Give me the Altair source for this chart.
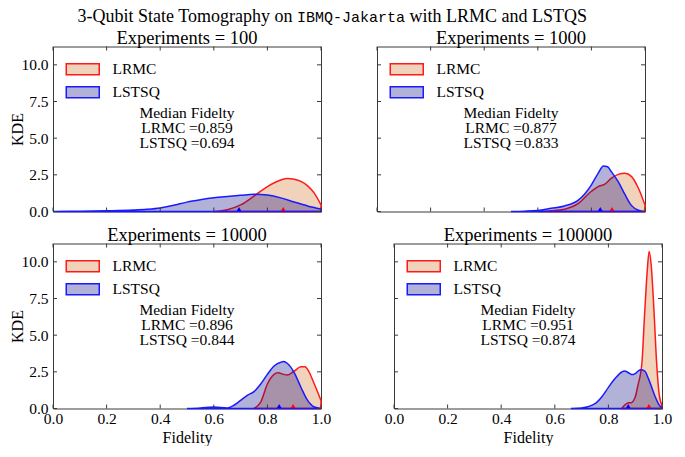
import altair as alt
import pandas as pd

methods = ["LRMC", "LSTSQ"]
experiments = [100, 1000, 10000, 100000]
median_lrmc = [0.859, 0.877, 0.896, 0.951]
median_lstsq = [0.694, 0.833, 0.844, 0.874]

x_ticks = [0.0, 0.2, 0.4, 0.6, 0.8, 1.0]
y_ticks = [0.0, 2.5, 5.0, 7.5, 10.0]

title_parts = ["3-Qubit State Tomography on", "IBMQ-Jakarta", "with LRMC and LSTQS"]

# --- KDE curves ---
lrmc_100_x = [0.6, 0.65, 0.7, 0.75, 0.8, 0.85, 0.875, 0.9, 0.925, 0.95, 0.975, 1.0]
lrmc_100_y = [0.0, 0.12, 0.45, 1.05, 1.7, 2.15, 2.25, 2.2, 2.05, 1.75, 1.25, 0.45]
lstsq_100_x = [0.0, 0.1, 0.2, 0.3, 0.35, 0.4, 0.45, 0.5, 0.55, 0.6, 0.65, 0.7, 0.75, 0.8, 0.85, 0.9, 0.95, 1.0]
lstsq_100_y = [0.0, 0.02, 0.05, 0.1, 0.15, 0.24, 0.42, 0.64, 0.8, 0.93, 1.02, 1.1, 1.18, 1.12, 0.93, 0.65, 0.38, 0.17]

lrmc_1000_x = [0.6, 0.65, 0.7, 0.75, 0.8, 0.825, 0.85, 0.875, 0.9, 0.925, 0.95, 0.975, 1.0]
lrmc_1000_y = [0.0, 0.05, 0.16, 0.53, 1.38, 1.7, 1.87, 2.27, 2.53, 2.6, 2.38, 1.6, 0.44]
lstsq_1000_x = [0.5, 0.55, 0.6, 0.65, 0.7, 0.75, 0.775, 0.8, 0.825, 0.845, 0.86, 0.875, 0.9, 0.925, 0.95, 0.975, 1.0]
lstsq_1000_y = [0.0, 0.02, 0.07, 0.22, 0.38, 0.76, 1.2, 1.82, 2.6, 3.1, 3.05, 2.7, 2.04, 1.16, 0.4, 0.09, 0.0]

lrmc_10000_x = [0.75, 0.775, 0.8, 0.825, 0.84, 0.86, 0.875, 0.9, 0.925, 0.94, 0.95, 0.975, 1.0]
lrmc_10000_y = [0.0, 0.44, 1.67, 2.33, 2.44, 2.33, 2.29, 2.55, 2.84, 2.84, 2.67, 1.67, 0.55]
lstsq_10000_x = [0.5, 0.55, 0.6, 0.65, 0.675, 0.7, 0.725, 0.75, 0.775, 0.8, 0.825, 0.85, 0.86, 0.875, 0.9, 0.925, 0.95, 0.975, 1.0]
lstsq_10000_y = [0.0, 0.04, 0.1, 0.04, 0.22, 0.55, 0.9, 1.15, 1.67, 2.33, 2.9, 3.15, 3.2, 3.07, 2.45, 1.45, 0.55, 0.1, 0.0]

lrmc_100000_x = [0.85, 0.86, 0.875, 0.885, 0.9, 0.91, 0.925, 0.935, 0.945, 0.952, 0.96, 0.97, 0.98, 0.99, 1.0]
lrmc_100000_y = [0.0, 0.22, 0.4, 0.4, 0.78, 1.56, 3.1, 6.4, 9.4, 10.7, 9.7, 6.7, 3.1, 0.9, 0.22]
lstsq_100000_x = [0.66, 0.7, 0.75, 0.775, 0.8, 0.825, 0.85, 0.86, 0.875, 0.89, 0.9, 0.92, 0.935, 0.95, 0.975, 0.99, 1.0]
lstsq_100000_y = [0.0, 0.04, 0.33, 0.78, 1.44, 2.04, 2.49, 2.56, 2.44, 2.31, 2.38, 2.64, 2.56, 2.0, 0.78, 0.22, 0.04]

curves = [
    (lrmc_100_x, lrmc_100_y, lstsq_100_x, lstsq_100_y),
    (lrmc_1000_x, lrmc_1000_y, lstsq_1000_x, lstsq_1000_y),
    (lrmc_10000_x, lrmc_10000_y, lstsq_10000_x, lstsq_10000_y),
    (lrmc_100000_x, lrmc_100000_y, lstsq_100000_x, lstsq_100000_y),
]

W, H = 268, 165
SERIF = "Liberation Serif"
MONO = "Liberation Mono"
FS = 15.5
fill_range = ["rgba(210,105,30,0.3)", "rgba(0,0,128,0.3)"]
stroke_range = ["#ff1a1a", "#1a1aff"]
FRAME = "#3a3a3a"
FRAME_VIEW = alt.ViewBackground(stroke=FRAME, strokeWidth=1)


def panel(i, show_x, show_y):
    lx, ly, sx, sy = curves[i]
    df = pd.concat([
        pd.DataFrame({"x": lx, "y": ly, "method": methods[0]}),
        pd.DataFrame({"x": sx, "y": sy, "method": methods[1]}),
    ], ignore_index=True)
    xs = alt.Scale(domain=[0, 1], nice=False, zero=False)
    ys = alt.Scale(domain=[0, 11.25], nice=False, zero=False)
    if show_x:
        xaxis = alt.Axis(values=x_ticks, format=".1f", ticks=False, domain=False, grid=False,
                         labelFont=SERIF, labelFontSize=FS, labelColor="black", labelPadding=3,
                         labelFlush=False, title="Fidelity", titleFont=SERIF, titleFontSize=16,
                         titleFontWeight="normal", titleColor="black", titlePadding=2)
    else:
        xaxis = None
    if show_y:
        yaxis = alt.Axis(values=y_ticks, format=".1f", ticks=False, domain=False, grid=False,
                         labelFont=SERIF, labelFontSize=FS, labelColor="black", labelPadding=5,
                         title="KDE", titleFont=SERIF, titleFontSize=16, titleFontWeight="normal",
                         titleColor="black", titleX=-28, titleY=H / 2, titleAngle=270,
                         titleBaseline="bottom", titleAlign="center")
    else:
        yaxis = None
    legend = alt.Legend(title=None, orient="none", legendX=22, legendY=15, padding=0,
                        symbolType="M-3,-1L3,-1L3,1L-3,1Z", symbolSize=121,
                        symbolStrokeWidth=1.5, labelFont=SERIF, labelFontSize=FS, labelColor="black",
                        labelOffset=22, rowPadding=5)
    area = alt.Chart(df).mark_area(interpolate="monotone", strokeWidth=1.5).encode(
        x=alt.X("x:Q", scale=xs, axis=xaxis),
        y=alt.Y("y:Q", scale=ys, axis=yaxis, stack=None),
        fill=alt.Fill("method:N", scale=alt.Scale(domain=methods, range=fill_range), legend=legend),
        stroke=alt.Stroke("method:N", scale=alt.Scale(domain=methods, range=stroke_range), legend=legend),
        detail="method:N",
    )
    xt = pd.DataFrame({"x": x_ticks})
    yt = pd.DataFrame({"y": y_ticks})
    tick_style = dict(color=FRAME, strokeWidth=1)
    tb = alt.Chart(xt).mark_rule(**tick_style).encode(
        x=alt.X("x:Q", scale=xs, axis=xaxis), y=alt.value(H), y2=alt.value(H - 4))
    tt = alt.Chart(xt).mark_rule(**tick_style).encode(
        x=alt.X("x:Q", scale=xs, axis=xaxis), y=alt.value(0), y2=alt.value(4))
    tl = alt.Chart(yt).mark_rule(**tick_style).encode(
        y=alt.Y("y:Q", scale=ys, axis=yaxis), x=alt.value(0), x2=alt.value(4))
    tr = alt.Chart(yt).mark_rule(**tick_style).encode(
        y=alt.Y("y:Q", scale=ys, axis=yaxis), x=alt.value(W), x2=alt.value(W - 4))

    med = pd.DataFrame({"x": [median_lrmc[i], median_lstsq[i]], "y": [0.0, 0.0], "method": methods})
    tri_r = alt.Chart(med).transform_filter(alt.datum.method == methods[0]).mark_point(
        shape="triangle-up", filled=True, size=22, color="red", opacity=1, yOffset=-2.5).encode(
        x=alt.X("x:Q", scale=xs, axis=xaxis), y=alt.Y("y:Q", scale=ys, axis=yaxis))
    tri_b = alt.Chart(med).transform_filter(alt.datum.method == methods[1]).mark_point(
        shape="triangle-up", filled=True, size=22, color="blue", opacity=1, yOffset=-2.5).encode(
        x=alt.X("x:Q", scale=xs, axis=xaxis), y=alt.Y("y:Q", scale=ys, axis=yaxis))

    note = (f"Median Fidelty\nLRMC ={median_lrmc[i]:.3f}\nLSTSQ ={median_lstsq[i]:.3f}")
    ann = alt.Chart(pd.DataFrame({"t": [note]})).mark_text(
        font=SERIF, fontSize=FS, lineHeight=15, align="center", baseline="middle",
        lineBreak="\n", color="black").encode(
        x=alt.value(W / 2), y=alt.value(H * 0.405), text="t:N")

    return alt.layer(area, tb, tt, tl, tr, tri_r, tri_b, ann).properties(
        width=W, height=H, view=FRAME_VIEW,
        title=alt.TitleParams(f"Experiments = {experiments[i]}", font=SERIF, fontSize=18.5,
                              fontWeight="normal", color="black", offset=-1.5, anchor="middle"),
    )


# main title: serif + monospace pieces (positions relative to the first panel's left edge)
TW = 2 * W + 51
C = TW / 2 - 14  # centre of the whole title line
tdf = pd.DataFrame({"a": [title_parts[0]], "b": [title_parts[1]], "c": [title_parts[2]]})
tbase = alt.Chart(tdf)
t1 = tbase.mark_text(font=SERIF, fontSize=18, align="right", baseline="alphabetic",
                     color="black").encode(x=alt.value(C - 40), y=alt.value(1), text="a:N")
t2 = tbase.mark_text(font=MONO, fontSize=15, align="left", baseline="alphabetic",
                     color="black").encode(x=alt.value(C - 35.5), y=alt.value(1), text="b:N")
t3 = tbase.mark_text(font=SERIF, fontSize=18, align="left", baseline="alphabetic",
                     color="black").encode(x=alt.value(C + 77), y=alt.value(1), text="c:N")
title_chart = alt.layer(t1, t2, t3).properties(width=1, height=1,
                                               view=alt.ViewBackground(stroke=None))

res = dict(x="independent", y="independent", fill="independent", stroke="independent")
row1 = alt.hconcat(panel(0, False, True), panel(1, False, False), spacing=51).resolve_scale(**res)
row2 = alt.hconcat(panel(2, True, True), panel(3, True, False), spacing=51).resolve_scale(**res)
grid = alt.vconcat(row1, row2, spacing=5).resolve_scale(**res)
chart = alt.vconcat(title_chart, grid, spacing=2.5).resolve_scale(**res).properties(
    padding=0, background="white"
).configure_view(stroke=None)

chart.save("out.html", embed_options={"renderer": "svg", "actions": False})
